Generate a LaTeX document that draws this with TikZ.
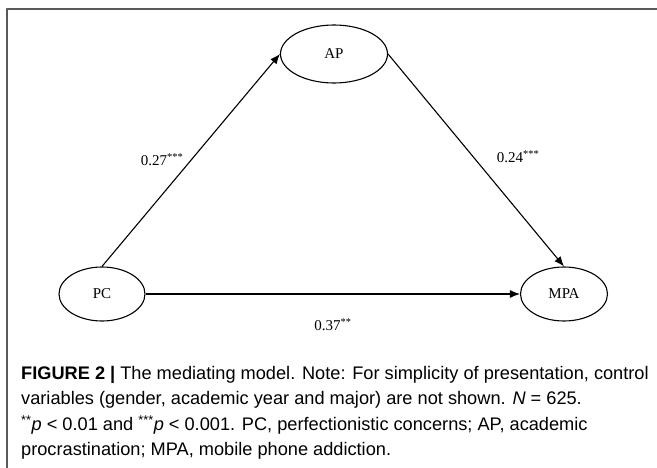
\documentclass[tikz,border=0pt]{standalone}
\usepackage{fontspec}
\setmainfont{Liberation Serif}
\newfontfamily\capfont{Liberation Sans}
\usetikzlibrary{shapes.geometric,arrows.meta}
\tikzset{
  var/.style={ellipse, draw, line width=1.1pt, inner sep=0pt, font=\fontsize{15}{15}\selectfont},
  coef/.style={inner sep=1pt, font=\fontsize{15}{15}\selectfont},
  path/.style={->, line width=1.1pt}
}
\begin{document}
\begin{tikzpicture}[x=1pt, y=-1pt, >={Latex[length=10pt,width=8pt]}, line join=round]
  \useasboundingbox (0,0) rectangle (657,468);
  \draw[line width=1.6pt, gray!70!black] (7,468) -- (7,9) -- (657,9); % frame
  % variables
  \node[var, minimum width=107pt, minimum height=58pt] (AP) at (334,54) {AP};
  \node[var, minimum width=86pt, minimum height=54pt] (PC) at (102,294) {PC};
  \node[var, minimum width=87pt, minimum height=54pt] (MPA) at (564,294) {MPA};
  % paths
  \draw[path] (PC.north) -- (AP.west);
  \draw[path] (AP.east) -- (MPA.north);
  \draw[path] (PC.east) -- (MPA.west);
  \node[coef] (a) at (162,160) {0.27\textsuperscript{***}};
  \node[coef] (b) at (518,157) {0.24\textsuperscript{***}};
  \node[coef] (c) at (333,325) {0.37\textsuperscript{**}};
  % caption
  \node[anchor=north west, inner sep=0pt, align=left,
        font=\capfont\fontsize{18.2}{25.5}\selectfont] (cap) at (21,366)
    {\textbf{FIGURE 2 |} The mediating model. Note: For simplicity of presentation, control\\
     variables (gender, academic year and major) are not shown. \textit{N} = 625.\\
     \textsuperscript{**}\textit{p} < 0.01 and \textsuperscript{***}\textit{p} < 0.001. PC, perfectionistic concerns; AP, academic\\
     procrastination; MPA, mobile phone addiction.};
\end{tikzpicture}
\end{document}
